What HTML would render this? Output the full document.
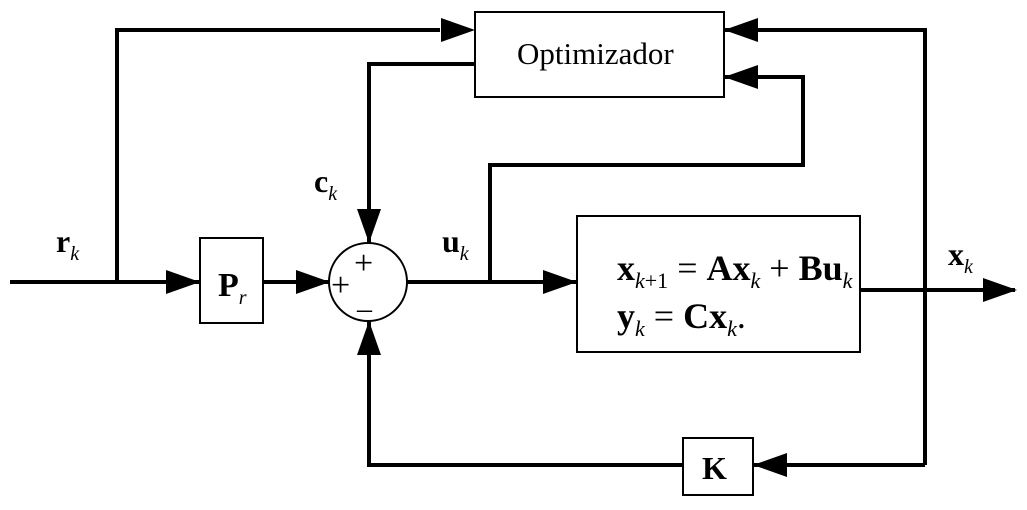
<!DOCTYPE html>
<html><head><style>body{margin:0;background:#fff}svg{display:block}</style></head><body>
<svg width="1027" height="510" viewBox="0 0 1027 510" xmlns="http://www.w3.org/2000/svg" font-family="Liberation Serif, serif">
<g fill="none" stroke="#000" stroke-width="4">
<path d="M10,282 H200"/>
<path d="M117,282 V30 H440"/>
<path d="M263,282 H330"/>
<path d="M474,64 H369 V243"/>
<path d="M407,282 H577"/>
<path d="M490,282 V165 H803 V77 H724"/>
<path d="M860,290 H1015"/>
<path d="M925,465 V30 H724"/>
<path d="M925,465 H753"/>
<path d="M683,465 H369 V321"/>
</g>
<g fill="#000">
<path d="M475,30 l-34,-12 v24z"/>
<path d="M200,282 l-34,-12 v24z"/>
<path d="M330,282 l-34,-12 v24z"/>
<path d="M369,243 l-12,-34 h24z"/>
<path d="M577,282 l-34,-12 v24z"/>
<path d="M724,77 l34,-12 v24z"/>
<path d="M724,30 l34,-12 v24z"/>
<path d="M1017,290 l-34,-12 v24z"/>
<path d="M753,465 l34,-12 v24z"/>
<path d="M369,321 l-12,34 h24z"/>
</g>
<g fill="#fff" stroke="#000" stroke-width="2">
<rect x="475" y="12" width="249" height="85"/>
<rect x="200" y="238" width="63" height="85"/>
<circle cx="368" cy="282" r="39"/>
<rect x="577" y="216" width="283" height="136"/>
<rect x="683" y="438" width="70" height="57"/>
</g>
<g font-size="30" fill="#000">
<text x="517" y="64" font-size="31">Optimizador</text>
<text x="218" y="296" font-weight="bold" font-size="34">P<tspan font-style="italic" font-weight="normal" font-size="20" dy="8">r</tspan></text>
<text x="702" y="479" font-weight="bold" font-size="32">K</text>
<text x="56" y="252" font-weight="bold" font-size="32">r<tspan font-style="italic" font-weight="normal" font-size="20" dy="8">k</tspan></text>
<text x="314" y="192" font-weight="bold" font-size="32">c<tspan font-style="italic" font-weight="normal" font-size="20" dy="8">k</tspan></text>
<text x="442" y="252" font-weight="bold" font-size="32">u<tspan font-style="italic" font-weight="normal" font-size="20" dy="8">k</tspan></text>
<text x="948" y="265" font-weight="bold" font-size="32">x<tspan font-style="italic" font-weight="normal" font-size="20" dy="8">k</tspan></text>
<text x="354" y="274" font-size="34">+</text>
<text x="331" y="296" font-size="34">+</text>
<text x="357" y="318" font-size="30">–</text>
<text x="617" y="280" font-weight="bold" font-size="36">x<tspan font-style="italic" font-weight="normal" font-size="22" dy="8">k</tspan><tspan font-weight="normal" font-size="22">+1</tspan><tspan dy="-8" font-weight="normal"> = </tspan>Ax<tspan font-style="italic" font-weight="normal" font-size="22" dy="8">k</tspan><tspan dy="-8" font-weight="normal"> + </tspan>Bu<tspan font-style="italic" font-weight="normal" font-size="22" dy="8">k</tspan></text>
<text x="617" y="328" font-weight="bold" font-size="36">y<tspan font-style="italic" font-weight="normal" font-size="22" dy="8">k</tspan><tspan dy="-8" font-weight="normal"> = </tspan>Cx<tspan font-style="italic" font-weight="normal" font-size="22" dy="8">k</tspan><tspan dy="-8" font-weight="normal">.</tspan></text>
</g>
</svg>
</body></html>
